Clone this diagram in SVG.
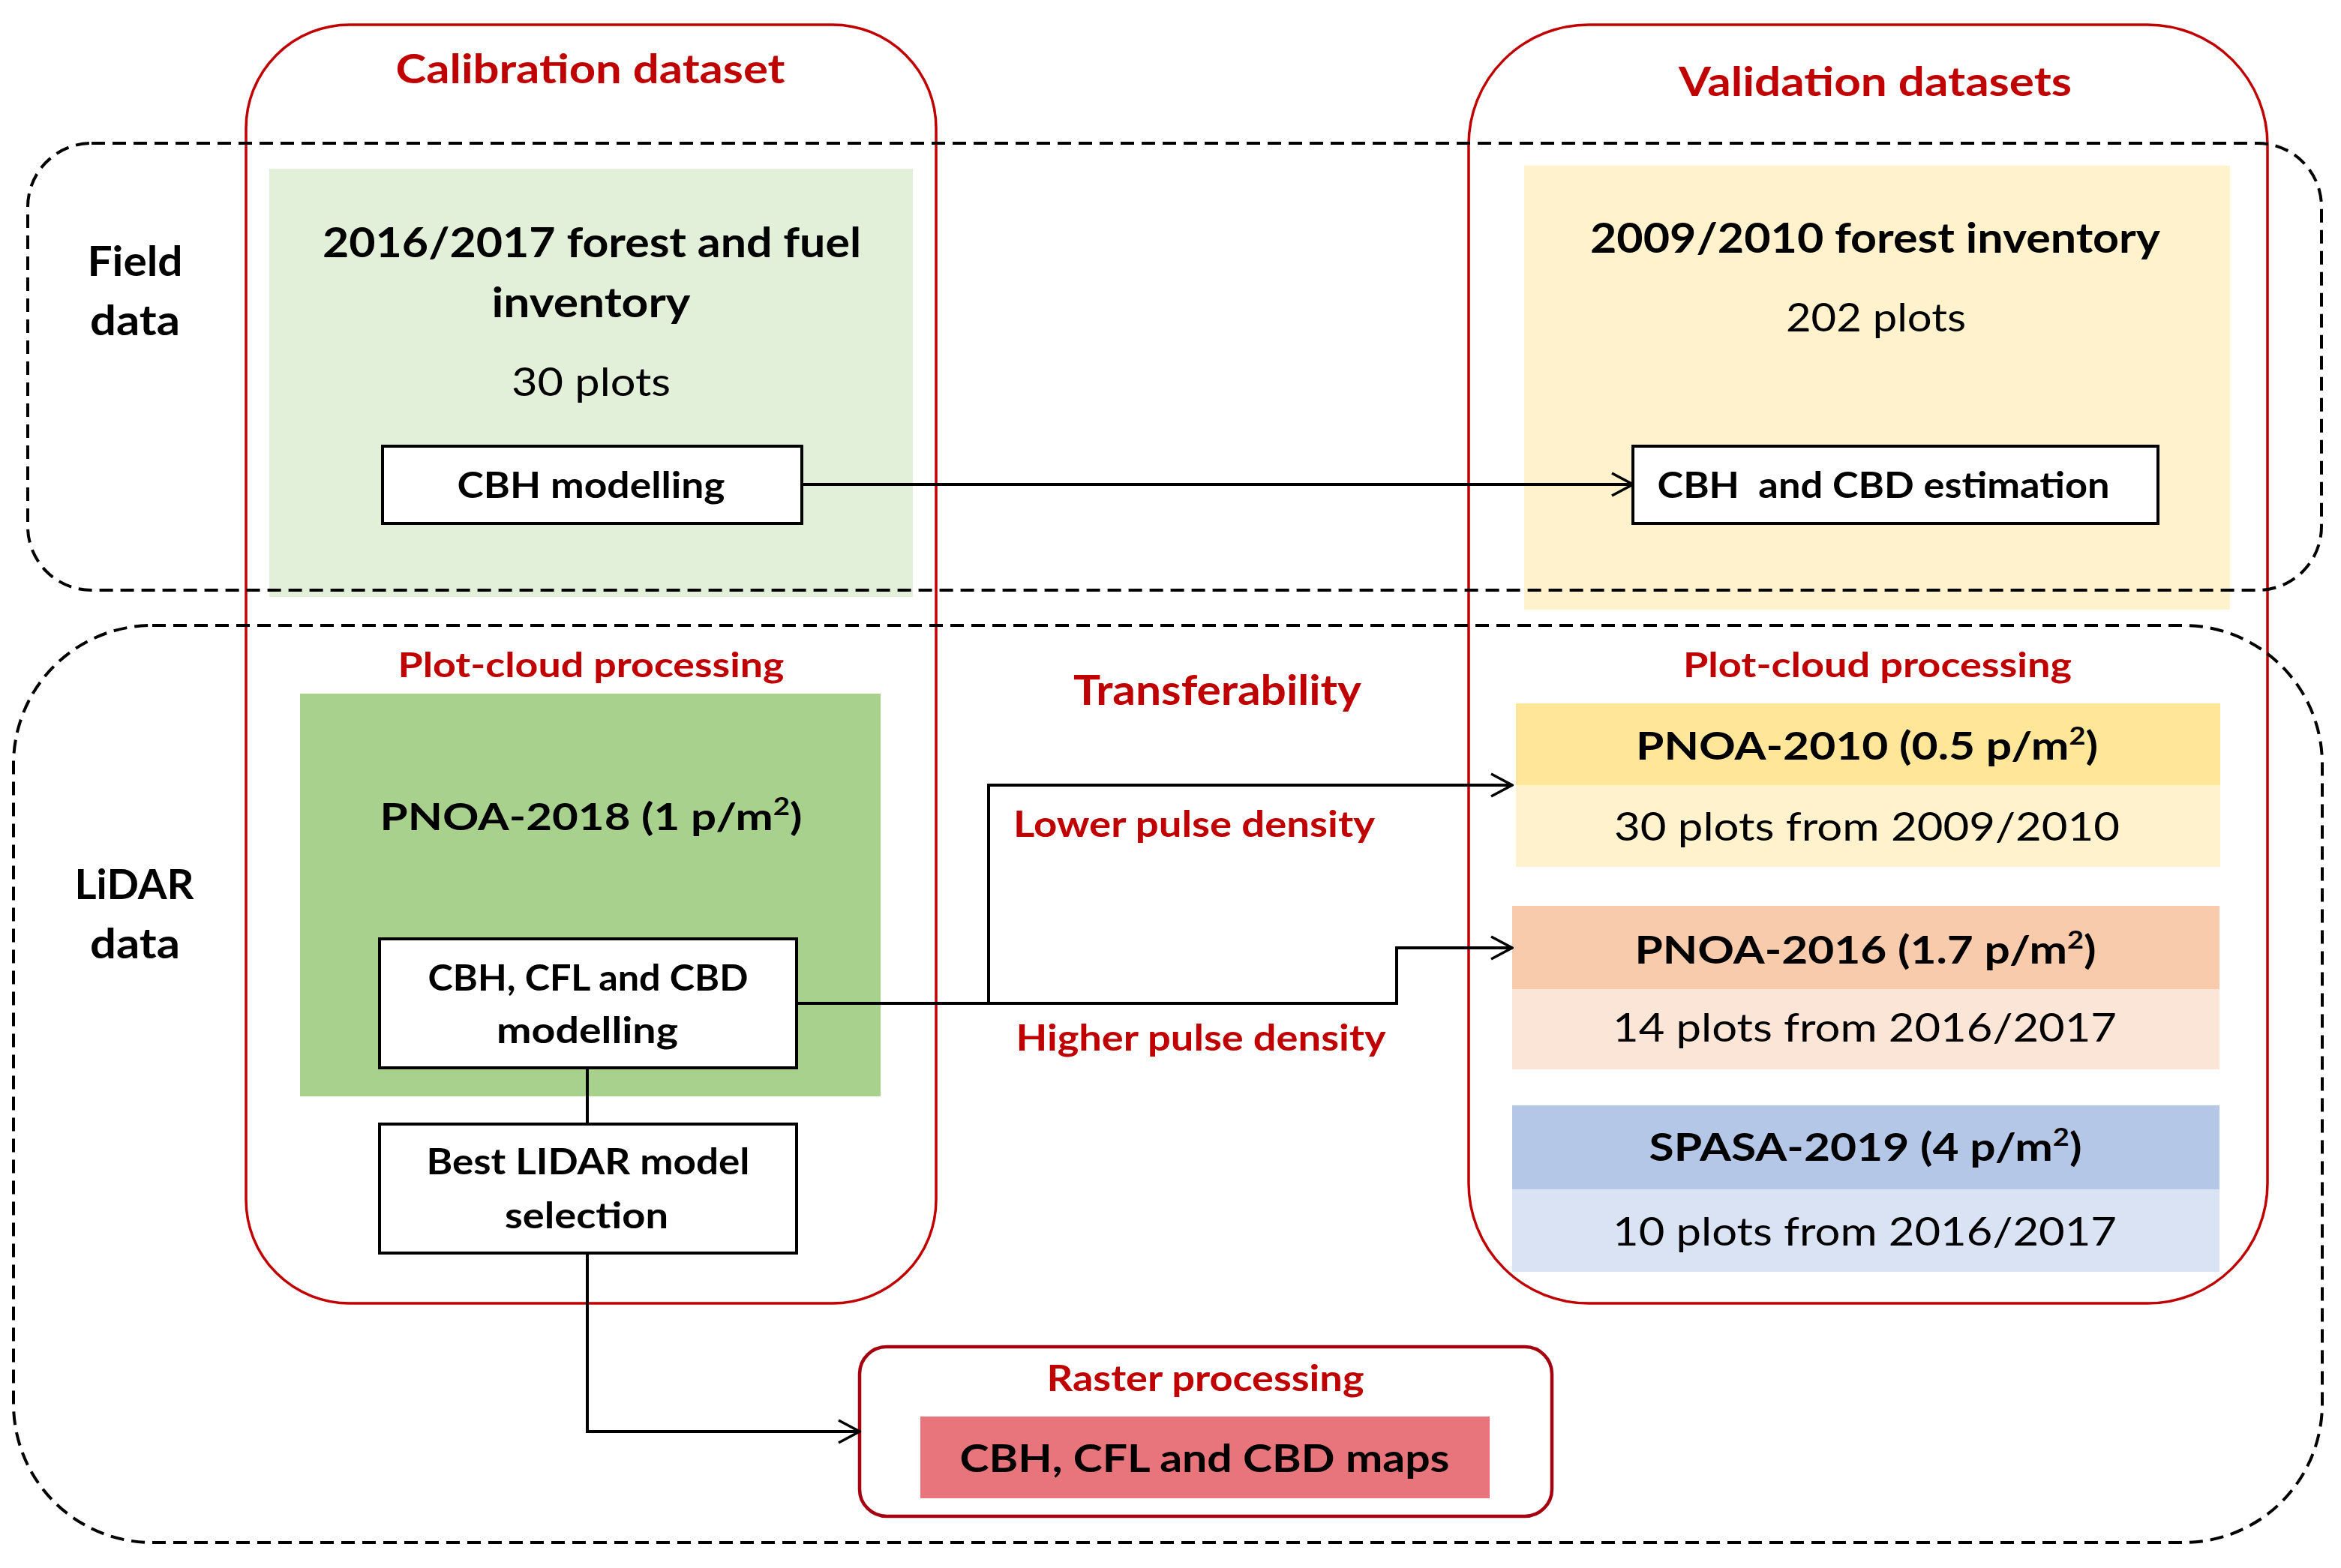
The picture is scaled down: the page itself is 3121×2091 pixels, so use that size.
<svg xmlns="http://www.w3.org/2000/svg" width="3121" height="2091" viewBox="0 0 3121 2091">
<style>
text{font-family:Lato,"Open Sans","Liberation Sans",sans-serif;text-anchor:middle}
.b{font-weight:700;fill:#000}
.r{font-weight:400;fill:#000}
.red{font-weight:700;fill:#C00000}
.dash{fill:none;stroke:#000;stroke-width:4;stroke-dasharray:18 10}
.grp{fill:none;stroke:#C00000;stroke-width:3.5}
.box{fill:#fff;stroke:#000;stroke-width:4}
.con{fill:none;stroke:#000;stroke-width:4}
</style>
<defs>
<marker id="arr" markerUnits="userSpaceOnUse" viewBox="0 0 32 34" refX="30" refY="17" markerWidth="32" markerHeight="34" orient="auto">
<path d="M2,2 L30,17 L2,32" fill="none" stroke="#000" stroke-width="3.5"/>
</marker>
</defs>
<rect width="3121" height="2091" fill="#fff"/>

<g id="field-calibration-panel">
<rect x="359" y="225" width="858" height="571" fill="#E2F0D9"/>
</g>
<g id="field-validation-panel">
<rect x="2032" y="221" width="941" height="592" fill="#FFF2CC"/>
</g>
<g id="pnoa2018-panel">
<rect x="400" y="925" width="774" height="537" fill="#A9D18E"/>
</g>
<g id="pnoa2010">
<rect x="2021" y="938" width="939" height="109" fill="#FFE699"/>
<rect x="2021" y="1047" width="939" height="109" fill="#FFF2CC"/>
<text class="b" x="2489" y="1013" font-size="51" textLength="616" lengthAdjust="spacingAndGlyphs">PNOA-2010 (0.5 p/m<tspan font-size="32" dy="-20">2</tspan><tspan dy="20">)</tspan></text>
<text class="r" x="2489" y="1121" font-size="52" textLength="674" lengthAdjust="spacingAndGlyphs">30 plots from 2009/2010</text>
</g>
<g id="pnoa2016">
<rect x="2016" y="1208" width="943" height="111" fill="#F8CBAD"/>
<rect x="2016" y="1319" width="943" height="107" fill="#FBE5D6"/>
<text class="b" x="2487" y="1285" font-size="51" textLength="615" lengthAdjust="spacingAndGlyphs">PNOA-2016 (1.7 p/m<tspan font-size="32" dy="-20">2</tspan><tspan dy="20">)</tspan></text>
<text class="r" x="2486" y="1389" font-size="52" textLength="672" lengthAdjust="spacingAndGlyphs">14 plots from 2016/2017</text>
</g>
<g id="spasa2019">
<rect x="2016" y="1474" width="943" height="112" fill="#B4C7E7"/>
<rect x="2016" y="1586" width="943" height="110" fill="#DAE3F3"/>
<text class="b" x="2487" y="1548" font-size="51" textLength="577" lengthAdjust="spacingAndGlyphs">SPASA-2019 (4 p/m<tspan font-size="32" dy="-20">2</tspan><tspan dy="20">)</tspan></text>
<text class="r" x="2486" y="1661" font-size="52" textLength="672" lengthAdjust="spacingAndGlyphs">10 plots from 2016/2017</text>
</g>

<g id="calibration-dataset">
<rect class="grp" x="328" y="33" width="920" height="1705" rx="138" ry="138"/>
<text class="red" x="787" y="111" font-size="54" textLength="519" lengthAdjust="spacingAndGlyphs">Calibration  dataset</text>
</g>
<g id="validation-datasets">
<rect class="grp" x="1958" y="33" width="1065" height="1705" rx="160" ry="160"/>
<text class="red" x="2500" y="128" font-size="54" textLength="524" lengthAdjust="spacingAndGlyphs">Validation  datasets</text>
</g>

<g id="field-data">
<rect class="dash" x="37" y="191" width="3058" height="596" rx="85" ry="85"/>
<text class="b" x="180" y="368" font-size="56" textLength="127" lengthAdjust="spacingAndGlyphs">Field</text>
<text class="b" x="180" y="447" font-size="56" textLength="120" lengthAdjust="spacingAndGlyphs">data</text>
</g>
<g id="lidar-data">
<rect class="dash" x="18" y="834" width="3078" height="1223" rx="185" ry="185"/>
<text class="b" x="179" y="1199" font-size="56" textLength="159" lengthAdjust="spacingAndGlyphs">LiDAR</text>
<text class="b" x="180" y="1278" font-size="56" textLength="120" lengthAdjust="spacingAndGlyphs">data</text>
</g>

<g id="field-calibration-text">
<text class="b" x="789" y="343" font-size="55" textLength="718" lengthAdjust="spacingAndGlyphs">2016/2017 forest and fuel</text>
<text class="b" x="788" y="423" font-size="55" textLength="265" lengthAdjust="spacingAndGlyphs">inventory</text>
<text class="r" x="788" y="528" font-size="53" textLength="212" lengthAdjust="spacingAndGlyphs">30 plots</text>
</g>
<g id="field-validation-text">
<text class="b" x="2500" y="337" font-size="55" textLength="760" lengthAdjust="spacingAndGlyphs">2009/2010 forest inventory</text>
<text class="r" x="2501" y="442" font-size="53" textLength="240" lengthAdjust="spacingAndGlyphs">202 plots</text>
</g>

<g id="cbh-modelling">
<rect class="box" x="510" y="595" width="559" height="103"/>
<text class="b" x="788" y="664" font-size="47" textLength="357" lengthAdjust="spacingAndGlyphs">CBH modelling</text>
</g>
<g id="cbh-cbd-estimation">
<rect class="box" x="2177" y="595" width="700" height="103"/>
<text class="b" x="2511" y="664" font-size="47" style="white-space:pre" textLength="603" lengthAdjust="spacingAndGlyphs">CBH  and CBD estimation</text>
</g>

<g id="plot-cloud-left">
<text class="red" x="788" y="903" font-size="46" textLength="515" lengthAdjust="spacingAndGlyphs">Plot-cloud processing</text>
</g>
<g id="plot-cloud-right">
<text class="red" x="2503" y="903" font-size="46" textLength="518" lengthAdjust="spacingAndGlyphs">Plot-cloud processing</text>
</g>
<g id="pnoa2018-text">
<text class="b" x="788" y="1107" font-size="50" textLength="563" lengthAdjust="spacingAndGlyphs">PNOA-2018 (1 p/m<tspan font-size="32" dy="-20">2</tspan><tspan dy="20">)</tspan></text>
</g>

<g id="cbh-cfl-cbd-modelling">
<rect class="box" x="506" y="1252" width="556" height="172"/>
<text class="b" x="784" y="1321" font-size="48" textLength="427" lengthAdjust="spacingAndGlyphs">CBH, CFL and CBD</text>
<text class="b" x="783" y="1391" font-size="48" textLength="242" lengthAdjust="spacingAndGlyphs">modelling</text>
</g>
<g id="best-lidar-model">
<rect class="box" x="506" y="1499" width="556" height="172"/>
<text class="b" x="784" y="1566" font-size="48" textLength="431" lengthAdjust="spacingAndGlyphs">Best LIDAR model</text>
<text class="b" x="782" y="1638" font-size="48" textLength="218" lengthAdjust="spacingAndGlyphs">selection</text>
</g>

<g id="transferability">
<text class="red" x="1623" y="940" font-size="56" textLength="384" lengthAdjust="spacingAndGlyphs">Transferability</text>
<text class="red" x="1592" y="1116" font-size="47" textLength="482" lengthAdjust="spacingAndGlyphs">Lower pulse density</text>
<text class="red" x="1601" y="1401" font-size="47" textLength="493" lengthAdjust="spacingAndGlyphs">Higher pulse density</text>
</g>

<g id="raster-processing">
<rect x="1146" y="1796" width="923" height="226" rx="36" ry="36" fill="#fff" stroke="#A50010" stroke-width="4.5"/>
<text class="red" x="1607" y="1855" font-size="47" textLength="423" lengthAdjust="spacingAndGlyphs">Raster processing</text>
<rect x="1227" y="1889" width="759" height="109" fill="#E8757C"/>
<text class="b" x="1606" y="1963" font-size="52" textLength="653" lengthAdjust="spacingAndGlyphs">CBH, CFL and CBD maps</text>
</g>

<g id="connectors">
<path class="con" d="M1069,646 H2177" marker-end="url(#arr)"/>
<path class="con" d="M1062,1338 H1862 V1264 H2016" marker-end="url(#arr)"/>
<path class="con" d="M1318,1338 V1047 H2016" marker-end="url(#arr)"/>
<path class="con" d="M783,1424 V1499"/>
<path class="con" d="M783,1671 V1909 H1146" marker-end="url(#arr)"/>
</g>
</svg>
